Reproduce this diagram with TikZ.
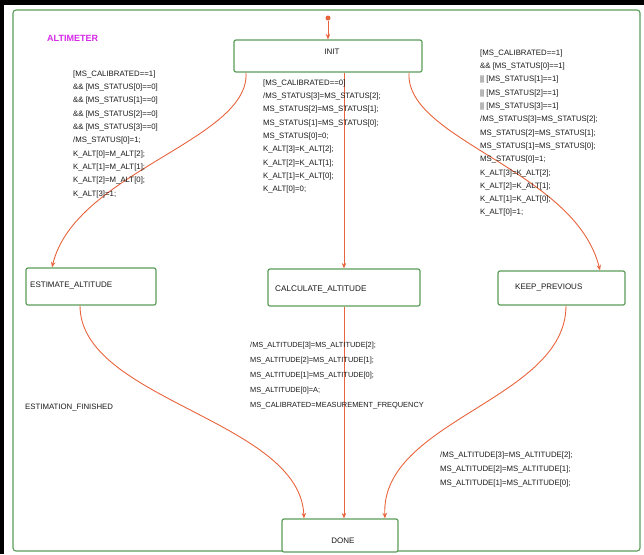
\documentclass[tikz,border=0pt]{standalone}
\usepackage{fontspec}
\setmainfont{Liberation Sans}
\usetikzlibrary{arrows.meta}
\definecolor{stgreen}{HTML}{5A9E5A}
\definecolor{trred}{HTML}{E8643C}
\definecolor{chartmag}{HTML}{D62AE8}
\definecolor{txt}{HTML}{1A1A1A}
\begin{document}
\begin{tikzpicture}[x=1pt,y=-1pt,
  statebox/.style={draw=stgreen,line width=1.2pt,rounded corners=2pt,fill=white,inner sep=0pt},
  slabel/.style={inner sep=0pt,font=\fontsize{8}{9}\selectfont,text=txt},
  tlabel/.style={inner sep=0pt,anchor=north west,align=left,text=txt,font=\fontsize{7.8}{13.3}\selectfont},
  trans/.style={draw=trred,line width=0.9pt,-{Stealth[length=5.5pt,width=4.5pt]}}]
\useasboundingbox (0,0) rectangle (644,554);
\fill[white] (0,0) rectangle (644,554);
\fill[black] (0,0) rectangle (644,5);
\fill[black] (0,0) rectangle (4,554);
\draw[stgreen,line width=1.1pt,rounded corners=3pt] (13,10) rectangle (640,551);

\node[inner sep=0pt,anchor=west,font=\bfseries\fontsize{9}{10}\selectfont,text=chartmag] (chart) at (47,38) {ALTIMETER};

% states
\node[statebox,minimum width=188pt,minimum height=32pt] (init) at (328,56) {};
\node[slabel] (initlbl) at (332,52) {INIT};
\node[statebox,minimum width=130pt,minimum height=37pt] (est) at (91,286.5) {};
\node[slabel,anchor=west] (estlbl) at (30,285) {ESTIMATE\_ALTITUDE};
\node[statebox,minimum width=152pt,minimum height=37pt] (calc) at (344,287.5) {};
\node[slabel,anchor=west,font=\fontsize{8.2}{9}\selectfont] (calclbl) at (275,289) {CALCULATE\_ALTITUDE};
\node[statebox,minimum width=127pt,minimum height=34pt] (keep) at (561.5,288) {};
\node[slabel,anchor=west] (keeplbl) at (515,287) {KEEP\_PREVIOUS};
\node[statebox,minimum width=116pt,minimum height=33pt] (done) at (340,535.5) {};
\node[slabel] (donelbl) at (343,541) {DONE};

% default transition
\node[circle,fill=trred,inner sep=0pt,minimum size=5pt] (dflt) at (328,18) {};
\draw[trans] (dflt) -- (init.north);

% transitions
\draw[trans] ([xshift=-82pt]init.south) .. controls (250,140) and (75,172) .. ([xshift=-39pt]est.north);
\draw[trans] ([xshift=16pt]init.south) -- (calc.north);
\draw[trans] ([xshift=81pt]init.south) .. controls (405,140) and (575,170) .. ([xshift=38.5pt]keep.north);
\draw[trans] ([xshift=-11pt]est.south) .. controls (80,400) and (300,420) .. ([xshift=-36pt]done.north);
\draw[trans] (calc.south) -- ([xshift=4pt]done.north);
\draw[trans] ([xshift=4.5pt]keep.south) .. controls (566,400) and (380,420) .. ([xshift=45pt]done.north);

% transition labels
\node[tlabel] (lblL) at (73,70.5) {[MS\_CALIBRATED==1]\\
\&\& [MS\_STATUS[0]==0]\\
\&\& [MS\_STATUS[1]==0]\\
\&\& [MS\_STATUS[2]==0]\\
\&\& [MS\_STATUS[3]==0]\\
/MS\_STATUS[0]=1;\\
K\_ALT[0]=M\_ALT[2];\\
K\_ALT[1]=M\_ALT[1];\\
K\_ALT[2]=M\_ALT[0];\\
K\_ALT[3]=1;};

\node[tlabel] (lblM) at (263,79.5) {[MS\_CALIBRATED==0]\\
/MS\_STATUS[3]=MS\_STATUS[2];\\
MS\_STATUS[2]=MS\_STATUS[1];\\
MS\_STATUS[1]=MS\_STATUS[0];\\
MS\_STATUS[0]=0;\\
K\_ALT[3]=K\_ALT[2];\\
K\_ALT[2]=K\_ALT[1];\\
K\_ALT[1]=K\_ALT[0];\\
K\_ALT[0]=0;};

\node[tlabel] (lblR) at (480,49.5) {[MS\_CALIBRATED==1]\\
\&\& [MS\_STATUS[0]==1]\\
|| [MS\_STATUS[1]==1]\\
|| [MS\_STATUS[2]==1]\\
|| [MS\_STATUS[3]==1]\\
/MS\_STATUS[3]=MS\_STATUS[2];\\
MS\_STATUS[2]=MS\_STATUS[1];\\
MS\_STATUS[1]=MS\_STATUS[0];\\
MS\_STATUS[0]=1;\\
K\_ALT[3]=K\_ALT[2];\\
K\_ALT[2]=K\_ALT[1];\\
K\_ALT[1]=K\_ALT[0];\\
K\_ALT[0]=1;};

\node[tlabel,font=\fontsize{7.4}{15}\selectfont] (lblCM) at (250,341.5) {/MS\_ALTITUDE[3]=MS\_ALTITUDE[2];\\
MS\_ALTITUDE[2]=MS\_ALTITUDE[1];\\
MS\_ALTITUDE[1]=MS\_ALTITUDE[0];\\
MS\_ALTITUDE[0]=A;\\
MS\_CALIBRATED=MEASUREMENT\_FREQUENCY};

\node[tlabel] (lblEL) at (25,403.5) {ESTIMATION\_FINISHED};

\node[tlabel,font=\fontsize{7.8}{14}\selectfont] (lblKR) at (440,451.5) {/MS\_ALTITUDE[3]=MS\_ALTITUDE[2];\\
MS\_ALTITUDE[2]=MS\_ALTITUDE[1];\\
MS\_ALTITUDE[1]=MS\_ALTITUDE[0];};
\end{tikzpicture}
\end{document}
